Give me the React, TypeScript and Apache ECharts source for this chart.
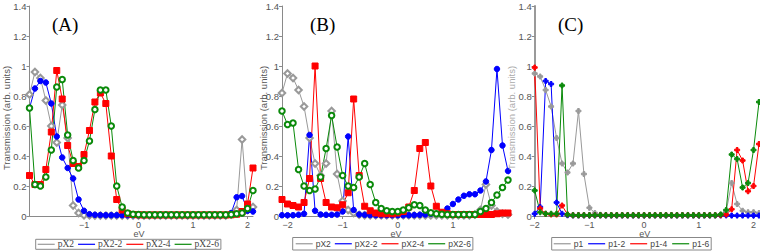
import React, { useEffect, useRef } from "react";
import * as echarts from "echarts";

// energy grid (eV), index 0 = -2.1 ... index 42 = 2.1
const xValues = [
  -2.1, -2.0, -1.9, -1.8, -1.7, -1.6, -1.5, -1.4, -1.3, -1.2,
  -1.1, -1.0, -0.9, -0.8, -0.7, -0.6, -0.5, -0.4, -0.3, -0.2,
  -0.1, 0.0, 0.1, 0.2, 0.3, 0.4, 0.5, 0.6, 0.7, 0.8,
  0.9, 1.0, 1.1, 1.2, 1.3, 1.4, 1.5, 1.6, 1.7, 1.8,
  1.9, 2.0, 2.1,
];

// Panel A
const aPX2 = [
  0.6, 0.81, 0.96, 0.92, 0.77, 0.6, 0.49, 0.74, 0.52, 0.07,
  0.02, 0.005, 0.004, 0.003, 0.003, 0.003, 0.003, 0.003, 0.003, 0.003,
  0.003, 0.003, 0.003, 0.003, 0.003, 0.003, 0.003, 0.003, 0.003, 0.003,
  0.003, 0.003, 0.003, 0.003, 0.003, 0.003, 0.003, 0.003, 0.01, 0.04,
  0.51, 0.04, 0.06,
];
const aPX2_2 = [
  0.6, 0.72, 0.85, 0.9, 0.89, 0.75, 0.53, 0.39, 0.32, 0.25,
  0.11, 0.035, 0.012, 0.008, 0.006, 0.005, 0.005, 0.005, 0.005, 0.005,
  0.005, 0.005, 0.005, 0.005, 0.005, 0.005, 0.005, 0.005, 0.005, 0.005,
  0.005, 0.005, 0.005, 0.005, 0.005, 0.005, 0.005, 0.005, 0.02, 0.125,
  0.133, 0.035, 0.03,
];
const aPX2_4 = [
  0.5, 0.27, 0.21, 0.21, 0.31, 0.56, 0.97, 0.78, 0.47, 0.35,
  0.33, 0.41, 0.57, 0.76, 0.82, 0.75, 0.4, 0.11, 0.04, 0.015,
  0.01, 0.008, 0.007, 0.007, 0.007, 0.007, 0.007, 0.007, 0.007, 0.007,
  0.007, 0.007, 0.007, 0.007, 0.007, 0.007, 0.007, 0.007, 0.008, 0.012,
  0.03, 0.08, 0.32,
];
const aPX2_6 = [
  0.65, 0.72, 0.21, 0.2, 0.26, 0.44, 0.86, 0.91, 0.54, 0.37,
  0.32, 0.37, 0.5, 0.71, 0.84, 0.84, 0.6, 0.2, 0.06, 0.02,
  0.012, 0.01, 0.008, 0.008, 0.008, 0.008, 0.008, 0.008, 0.008, 0.008,
  0.008, 0.008, 0.008, 0.008, 0.008, 0.008, 0.008, 0.008, 0.01, 0.015,
  0.02, 0.05, 0.17,
];

// Panel B
const bPX2 = [
  0.82, 0.95, 0.92, 0.84, 0.73, 0.52, 0.35, 0.27, 0.35, 0.7,
  0.28, 0.1, 0.04, 0.02, 0.008, 0.005, 0.004, 0.004, 0.004, 0.004,
  0.004, 0.004, 0.004, 0.004, 0.004, 0.004, 0.004, 0.004, 0.004, 0.004,
  0.004, 0.004, 0.004, 0.004, 0.004, 0.01, 0.04, 0.21, 0.07, 0.03,
  0.015, 0.01, 0.01,
];
const bPX2_2 = [
  0.005, 0.005, 0.005, 0.008, 0.015, 0.54, 0.035, 0.01, 0.008, 0.008,
  0.01, 0.03, 0.53, 0.04, 0.01, 0.008, 0.006, 0.005, 0.005, 0.005,
  0.005, 0.005, 0.005, 0.005, 0.006, 0.008, 0.01, 0.015, 0.015, 0.02,
  0.05, 0.08, 0.11, 0.135, 0.145, 0.145, 0.17, 0.23, 0.44, 0.98,
  0.47, 0.3, 0.2,
];
const bPX2_4 = [
  0.11, 0.08, 0.07, 0.06, 0.09, 0.25, 1.0, 0.25, 0.09, 0.06,
  0.055, 0.075, 0.155, 0.78, 0.27, 0.065, 0.035, 0.02, 0.015, 0.015,
  0.015, 0.02, 0.03, 0.06, 0.17, 0.45, 0.49, 0.2, 0.065, 0.025,
  0.015, 0.01, 0.01, 0.01, 0.01, 0.01, 0.01, 0.01, 0.01, 0.015,
  0.02, 0.02, 0.02,
];
const bPX2_6 = [
  0.7, 0.61, 0.62, 0.31, 0.2, 0.17, 0.18, 0.26, 0.45, 0.67,
  0.46, 0.27, 0.2, 0.19, 0.26, 0.35, 0.21, 0.09, 0.05, 0.035,
  0.03, 0.03, 0.04, 0.055, 0.075, 0.07, 0.04, 0.022, 0.015, 0.012,
  0.01, 0.01, 0.01, 0.01, 0.01, 0.01, 0.03, 0.05, 0.09, 0.14,
  0.19, 0.24, 0.3,
];

// Panel C
const cP1 = [
  0.85, 0.95, 0.93, 0.84, 0.73, 0.52, 0.35, 0.29, 0.35, 0.7,
  0.28, 0.055, 0.02, 0.008, 0.005, 0.004, 0.004, 0.004, 0.004, 0.004,
  0.004, 0.004, 0.004, 0.004, 0.004, 0.004, 0.004, 0.004, 0.004, 0.004,
  0.004, 0.004, 0.004, 0.004, 0.004, 0.01, 0.03, 0.22, 0.08, 0.035,
  0.025, 0.025, 0.02,
];
const cP1_2 = [
  0.01, 0.015, 0.06, 0.9, 0.88, 0.09, 0.015, 0.005, 0.004, 0.004,
  0.004, 0.004, 0.004, 0.004, 0.004, 0.004, 0.004, 0.004, 0.004, 0.004,
  0.004, 0.004, 0.004, 0.004, 0.004, 0.004, 0.004, 0.004, 0.004, 0.004,
  0.004, 0.004, 0.004, 0.004, 0.004, 0.004, 0.004, 0.003, 0.003, 0.003,
  0.003, 0.003, 0.003,
];
const cP1_4 = [
  0.3, 0.99, 0.05, 0.015, 0.01, 0.01, 0.07, 0.01, 0.005, 0.005,
  0.005, 0.005, 0.005, 0.005, 0.005, 0.005, 0.005, 0.005, 0.005, 0.005,
  0.005, 0.005, 0.005, 0.005, 0.005, 0.005, 0.005, 0.005, 0.005, 0.005,
  0.005, 0.005, 0.005, 0.005, 0.005, 0.005, 0.01, 0.045, 0.44, 0.37,
  0.165, 0.2, 0.48,
];
const cP1_6 = [
  0.3, 0.17, 0.025, 0.015, 0.015, 0.015, 0.87, 0.01, 0.005, 0.005,
  0.005, 0.005, 0.005, 0.005, 0.005, 0.005, 0.005, 0.005, 0.005, 0.005,
  0.005, 0.005, 0.005, 0.005, 0.005, 0.005, 0.005, 0.005, 0.005, 0.005,
  0.005, 0.005, 0.005, 0.005, 0.005, 0.01, 0.04, 0.41, 0.38, 0.19,
  0.22, 0.44, 0.76,
];

const namesAB = ["pX2", "pX2-2", "pX2-4", "pX2-6"];
const namesC = ["p1", "p1-2", "p1-4", "p1-6"];
const panelLabels = ["(A)", "(B)", "(C)"];
const xTicksA = [-1, 0, 1, 2];
const xTicksB = [-2, -1, 0, 1];
const xTicksC = [-2, -1, 0, 1, 2];
const yTitle = "Transmission (arb. units)";
const xTitle = "eV";

const GRAY = "#999999";
const BLUE = "#0000ff";
const RED = "#ff0000";
const GREEN = "#0a8a0a";
const seriesColors = [GRAY, BLUE, RED, GREEN];
const PLUS = "path://M2,0H4V2H6V4H4V6H2V4H0V2H2Z";

const SANS = "Liberation Sans, Arial, sans-serif";
const SERIF = "Liberation Serif, Times New Roman, serif";

function pairs(ys: number[]) {
  return xValues.map((x, i) => [x, ys[i]]);
}

// a zero tick value is nudged so that the axis keeps its label
function tickPositions(ticks: number[]) {
  return ticks.map((t) => (t === 0 ? 1e-9 : t));
}

function line(
  name: string,
  ys: number[],
  color: string,
  symbol: string,
  size: number,
  idx: number
) {
  return {
    type: "line",
    name,
    xAxisIndex: idx,
    yAxisIndex: idx,
    data: pairs(ys),
    symbol,
    symbolSize: size,
    showAllSymbol: true,
    color,
    lineStyle: { color, width: 1 },
    itemStyle: { color, borderColor: color, borderWidth: 1 },
    clip: true,
    emphasis: { disabled: true },
  };
}

let measureCtx: CanvasRenderingContext2D | null = null;
function textWidth(t: string, font: string) {
  if (!measureCtx) measureCtx = document.createElement("canvas").getContext("2d");
  if (!measureCtx) return t.length * 5;
  measureCtx.font = font;
  return measureCtx.measureText(t).width;
}

function legendGraphic(
  bx: number,
  by: number,
  bh: number,
  names: string[],
  fontFamily: string,
  fontSize: number,
  lineLen: number,
  padL: number,
  padR: number,
  gapAfterLine: number,
  gapAfterText: number
) {
  const children: any[] = [];
  let cur = bx + padL;
  const mid = by + bh / 2;
  names.forEach((n, i) => {
    children.push({
      type: "line",
      shape: { x1: cur, y1: mid, x2: cur + lineLen, y2: mid },
      style: { stroke: seriesColors[i], lineWidth: 1.2 },
    });
    cur += lineLen + gapAfterLine;
    children.push({
      type: "text",
      x: cur,
      y: mid,
      style: {
        text: n,
        fontFamily,
        fontSize,
        fill: "#444",
        textAlign: "left",
        textVerticalAlign: "middle",
      },
    });
    cur += textWidth(n, `${fontSize}px ${fontFamily}`);
    if (i < names.length - 1) cur += gapAfterText;
  });
  cur += padR;
  children.unshift({
    type: "rect",
    shape: { x: bx, y: by, width: cur - bx, height: bh },
    style: { fill: "#fff", stroke: "#888", lineWidth: 1 },
  });
  return { type: "group", z: 100, children };
}

export default function App() {
  const ref = useRef<HTMLDivElement>(null);
  useEffect(() => {
    if (!ref.current) return;
    const chart = echarts.init(ref.current, undefined, { renderer: "svg" });
    const grids = [
      { left: 29.5, top: 6, width: 223.5, height: 210 },
      { left: 282, top: 6, width: 226, height: 210 },
      { left: 534.7, top: 6, width: 224.3, height: 210 },
    ];
    const xRanges = [
      [-2.0, 2.1],
      [-2.1, 2.0],
      [-2.0, 2.1],
    ];
    const xTicks = [xTicksA, xTicksB, xTicksC];
    const axisLineColor = "#8a8a8a";
    const labelColor = "#555";
    const xAxis = grids.map((_, i) => ({
      type: "value",
      gridIndex: i,
      min: xRanges[i][0],
      max: xRanges[i][1],
      axisLine: { show: true, onZero: false, lineStyle: { color: axisLineColor, width: 1 } },
      axisTick: {
        show: true,
        length: 3,
        customValues: tickPositions(xTicks[i]),
        lineStyle: { color: axisLineColor },
      },
      axisLabel: {
        show: true,
        customValues: tickPositions(xTicks[i]),
        margin: 4.5,
        fontFamily: SANS,
        fontSize: 9,
        lineHeight: 8,
        color: labelColor,
        formatter: (v: number) => String(Math.round(v)).replace("-", "\u2212"),
      },
      splitLine: { show: false },
    }));
    const yAxis = grids.map((_, i) => ({
      type: "value",
      gridIndex: i,
      min: 0,
      max: 1.4,
      interval: 0.2,
      axisLine: {
        show: true,
        onZero: false,
        lineStyle: { color: i === 2 ? "#9a9a9a" : axisLineColor, width: i === 2 ? 2 : 1 },
      },
      axisTick: { show: true, length: 3, lineStyle: { color: axisLineColor } },
      axisLabel: { margin: 3, fontFamily: SANS, fontSize: 9.5, lineHeight: 9, color: labelColor },
      splitLine: { show: false },
    }));

    const series = [
      line(namesAB[0], aPX2, GRAY, "emptyDiamond", 6.5, 0),
      line(namesAB[1], aPX2_2, BLUE, "circle", 5.5, 0),
      line(namesAB[2], aPX2_4, RED, "rect", 6, 0),
      line(namesAB[3], aPX2_6, GREEN, "emptyCircle", 5.5, 0),
      line(namesAB[0], bPX2, GRAY, "emptyDiamond", 6.5, 1),
      line(namesAB[1], bPX2_2, BLUE, "circle", 5.5, 1),
      line(namesAB[2], bPX2_4, RED, "rect", 6, 1),
      line(namesAB[3], bPX2_6, GREEN, "emptyCircle", 5.5, 1),
      line(namesC[0], cP1, GRAY, PLUS, 5, 2),
      line(namesC[1], cP1_2, BLUE, PLUS, 5, 2),
      line(namesC[2], cP1_4, RED, PLUS, 5, 2),
      line(namesC[3], cP1_6, GREEN, PLUS, 5, 2),
    ];

    const labelX = [52, 310, 558];
    const graphic: any[] = panelLabels.map((t, i) => ({
      type: "text",
      left: labelX[i],
      top: 15,
      z: 100,
      style: { text: t, fontFamily: SERIF, fontSize: 19, fill: "#000" },
    }));
    const yTitleX = [6, 263.5, 511];
    yTitleX.forEach((x, i) => {
      graphic.push({
        type: "text",
        x,
        y: 118,
        rotation: Math.PI / 2,
        z: 50,
        style: {
          text: yTitle,
          fontFamily: SANS,
          fontSize: 9.5,
          fill: i === 2 ? "#aaa" : labelColor,
          textAlign: "center",
          textVerticalAlign: "middle",
        },
      });
    });
    const eVX = [139, 396, 644.7];
    eVX.forEach((x) => {
      graphic.push({
        type: "text",
        x,
        y: 233.5,
        z: 50,
        style: {
          text: xTitle,
          fontFamily: SANS,
          fontSize: 9,
          fill: labelColor,
          textAlign: "center",
          textVerticalAlign: "middle",
        },
      });
    });
    graphic.push(legendGraphic(35.7, 239.3, 10, namesAB, SERIF, 9.5, 17, 2, 2, 3, 4));
    graphic.push(legendGraphic(292.7, 237.5, 12.5, namesAB, SANS, 8.5, 17, 3, 2, 3, 4));
    graphic.push(legendGraphic(551.7, 237.5, 12.5, namesC, SANS, 8.5, 17, 2, 2, 3, 5));

    chart.setOption({
      animation: false,
      backgroundColor: "#fff",
      grid: grids,
      xAxis,
      yAxis,
      series,
      graphic,
    });
    return () => chart.dispose();
  }, []);
  return (
    <div
      ref={ref}
      style={{ position: "fixed", left: 0, top: 0, width: 760, height: 252 }}
    />
  );
}
